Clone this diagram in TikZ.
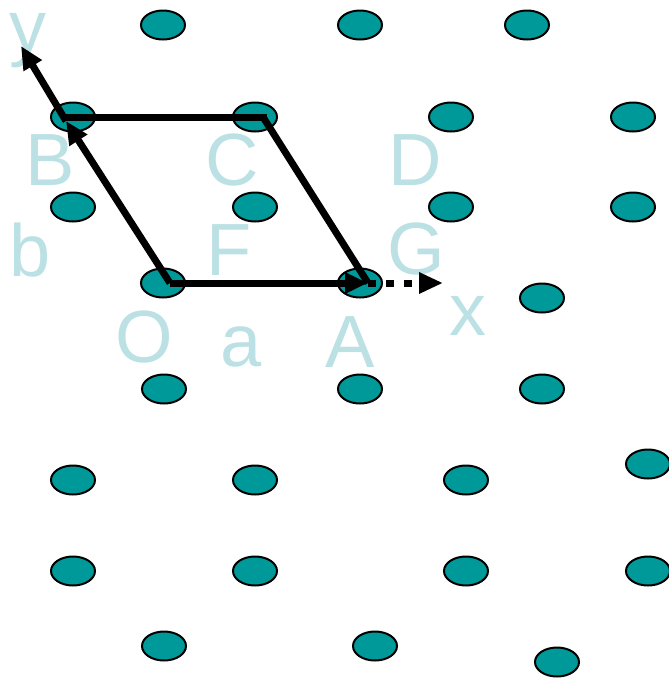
\documentclass[tikz,border=0pt]{standalone}
\usepackage{fontspec}
\setmainfont{Liberation Sans}
\usepackage{xcolor}
\usepackage{tikz}
\usetikzlibrary{shapes.geometric, arrows.meta, positioning, calc}
\definecolor{siteteal}{RGB}{0,153,153}
\definecolor{labelcyan}{RGB}{188,225,229}
\tikzset{
  site/.style={
    ellipse, draw, line width=2pt, fill=siteteal, inner sep=0pt,
    minimum width=44pt, minimum height=29pt
  },
  latlabel/.style={
    anchor=base, inner sep=0pt, text=labelcyan,
    font=\fontsize{74}{80}\selectfont
  },
  cellarrow/.style={
    -{Triangle[length=23pt, width=20pt]}, line width=7pt
  },
  celledge/.style={
    line width=7pt, line cap=butt
  },
  axisarrow/.style={
    -{Triangle[length=24pt, width=20pt]}, line width=7pt,
    dash pattern=on 8pt off 10pt
  },
}

\begin{document}
\begin{tikzpicture}[x=1pt, y=-1pt]
  \useasboundingbox (0,0) rectangle (669,678);

  % === Lattice sites ===
  \node[site] (s11) at (163,25) {};  \node[site] (s12) at (360,25) {};  \node[site] (s13) at (527,25) {};
  \node[site] (s21) at (73,117) {};  \node[site] (s22) at (255,117) {}; \node[site] (s23) at (451,117) {}; \node[site] (s24) at (633,117) {};
  \node[site] (s31) at (73,207) {};  \node[site] (s32) at (255,207) {}; \node[site] (s33) at (451,207) {}; \node[site] (s34) at (633,207) {};
  \node[site] (s41) at (163,283) {}; \node[site] (s42) at (360,283) {}; \node[site] (s43) at (542,298) {};
  \node[site] (s51) at (164,389) {}; \node[site] (s52) at (360,389) {}; \node[site] (s53) at (542,389) {};
  \node[site] (s61) at (73,480) {};  \node[site] (s62) at (255,480) {}; \node[site] (s63) at (466,480) {}; \node[site] (s64) at (648,464) {};
  \node[site] (s71) at (73,571) {};  \node[site] (s72) at (255,571) {}; \node[site] (s73) at (466,571) {}; \node[site] (s74) at (648,571) {};
  \node[site] (s81) at (164,646) {}; \node[site] (s82) at (375,646) {}; \node[site] (s83) at (557,662) {};

  % === Labels ===
  \node[latlabel, text height=0.52em] (ly) at (28,52)  {y};
  \node[latlabel] (lB) at (50,185) {B};
  \node[latlabel] (lC) at (232,185) {C};
  \node[latlabel] (lD) at (415,185) {D};
  \node[latlabel] (lb) at (30,276) {b};
  \node[latlabel] (lF) at (229,275) {F};
  \node[latlabel] (lG) at (416,274) {G};
  \node[latlabel] (lx) at (468,335) {x};
  \node[latlabel] (lO) at (144,362) {O};
  \node[latlabel] (la) at (241,366) {a};
  \node[latlabel] (lA) at (350,367) {A};

  % === Unit cell ===
  \coordinate (O) at (170,283);
  \coordinate (A) at (368,283);
  \coordinate (B) at (66,121);
  \coordinate (C) at (263,117);
  \coordinate (ytip) at (21,46);
  \coordinate (xtip) at (443,283);

  \draw[axisarrow] (A) -- (xtip);
  \draw[celledge] (A) -- (C);
  \draw[celledge] ([xshift=4pt]C) -- (63,117);
  \draw[cellarrow] (O) -- (A);
  \draw[cellarrow] (O) -- (B);
  \draw[cellarrow] (B) -- (ytip);
\end{tikzpicture}
\end{document}
